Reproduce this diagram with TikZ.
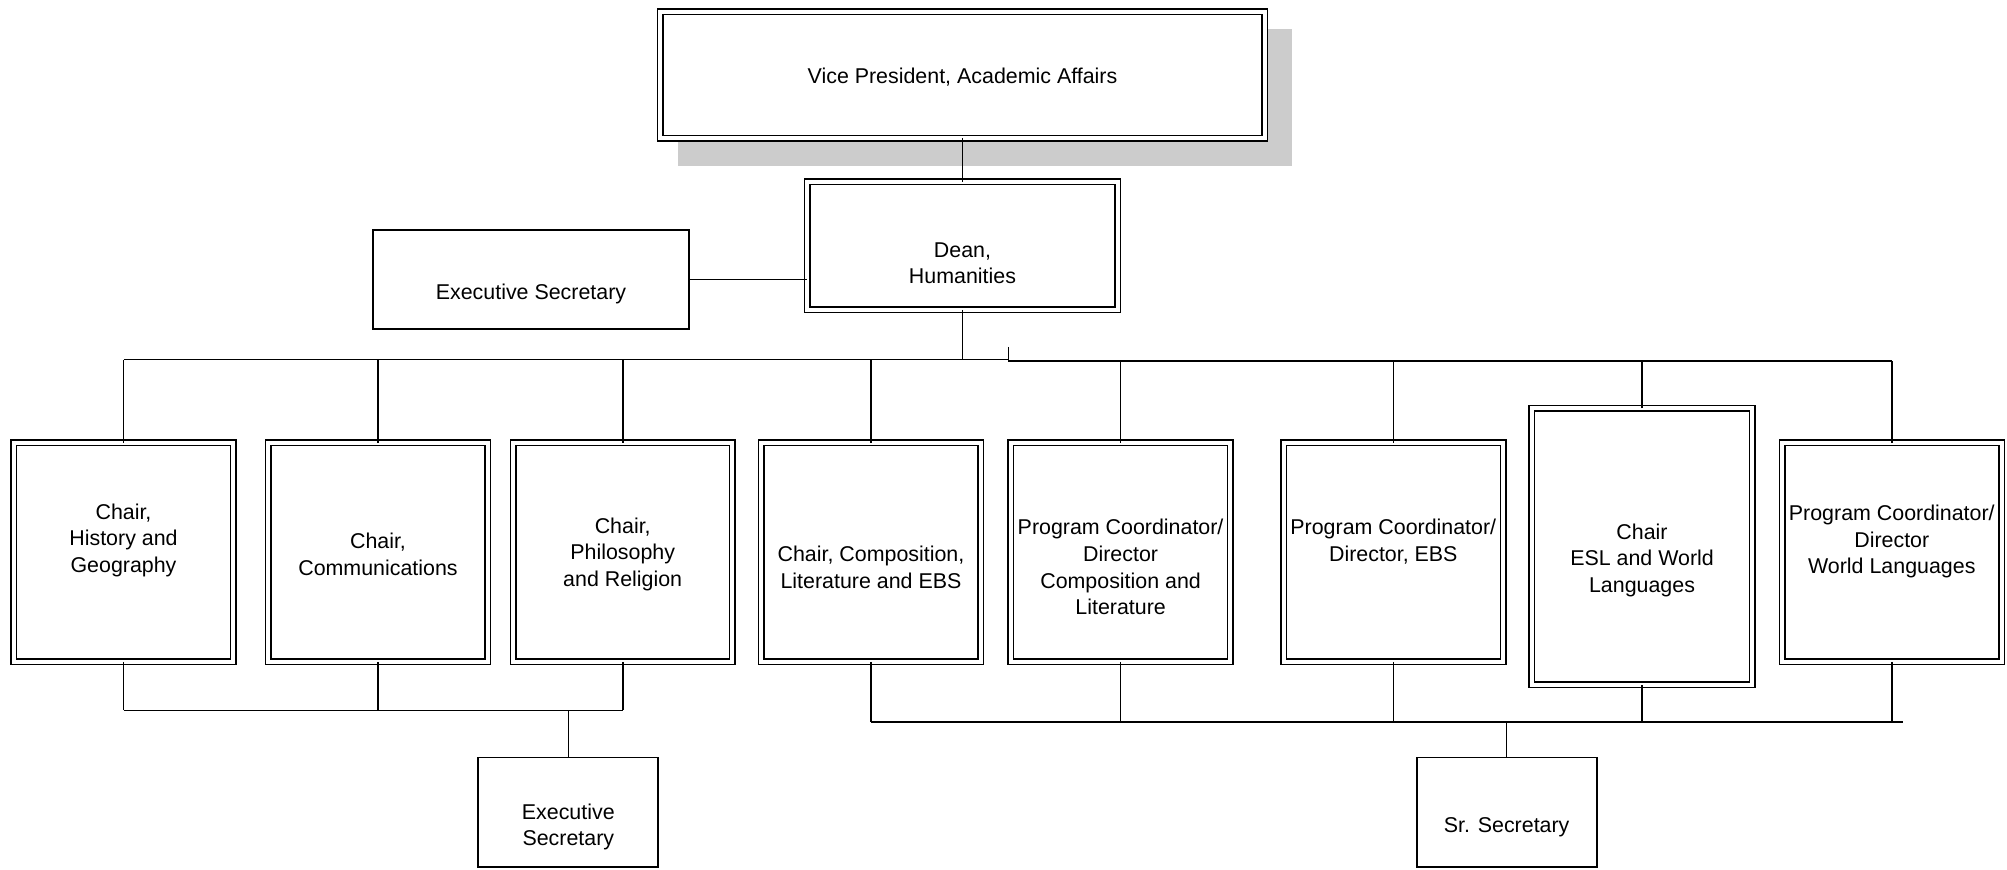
\documentclass[tikz,border=0pt]{standalone}
\usepackage{fontspec}
\setmainfont{Liberation Sans}
\begin{document}
\begin{tikzpicture}[x=0.5pt,y=-0.5pt,
  font=\fontsize{10.7}{13.3}\selectfont,
  dbox/.style={draw, line width=0.75pt, double, double distance=2pt, inner sep=0pt, outer sep=0pt, fill=white},
  sbox/.style={draw, line width=0.9pt, inner sep=0pt, outer sep=0pt, fill=white},
  child/.style={dbox, minimum width=109.7pt, minimum height=109.7pt},
  sec/.style={sbox, minimum width=90pt, minimum height=54.9pt},
  txt/.style={align=center, inner sep=0pt, yshift=-1pt},
  conn/.style={line width=0.8pt}
]
\useasboundingbox (0,0) rectangle (2007,870);
% shadow of top box
\fill[black!20] (678,29.4) rectangle (1291.5,166.4);
% boxes
\node[dbox, minimum width=302.4pt, minimum height=63.4pt,
  label={[txt]center:Vice President, Academic Affairs}] (vp) at (962.5,75) {};
\node[dbox, minimum width=155.1pt, minimum height=64.2pt,
  label={[txt,yshift=-7.7pt]center:Dean,\\Humanities}] (dean) at (962.5,245.8) {};
\node[sbox, minimum width=157.9pt, minimum height=49.6pt,
  label={[txt,yshift=-6.4pt]center:Executive Secretary}] (es1) at (531,279.6) {};
\node[child, label={[txt,yshift=7pt]center:Chair,\\History and\\Geography}] (c1) at (123.5,552.3) {};
\node[child, label={[txt]center:Chair,\\Communications}] (c2) at (378,552.3) {};
\node[child, label={[txt]center:Chair,\\Philosophy\\and Religion}] (c3) at (622.7,552.3) {};
\node[child, label={[txt,yshift=-6.4pt]center:Chair, Composition,\\Literature and EBS}] (c4) at (871,552.3) {};
\node[child, label={[txt,yshift=-6.4pt]center:Program Coordinator/\\Director\\Composition and\\Literature}] (c5) at (1120.6,552.3) {};
\node[child, label={[txt,yshift=6.4pt]center:Program Coordinator/\\Director, EBS}] (c6) at (1393.3,552.3) {};
\node[dbox, minimum width=110.4pt, minimum height=138.4pt,
  label={[txt,yshift=-5.8pt]center:Chair\\ESL and World\\Languages}] (c7) at (1642,546.6) {};
\node[child, label={[txt,yshift=6.4pt]center:Program Coordinator/\\Director\\World Languages}] (c8) at (1891.8,552.3) {};
\node[sec, label={[txt,yshift=-6.4pt]center:Executive\\Secretary}] (es2) at (568.3,812.3) {};
\node[sec, label={[txt,yshift=-6.4pt]center:Sr. Secretary}] (sr) at (1506.6,812.3) {};
% helper coordinates
\coordinate (bus) at (0,359.7);
\coordinate (busr) at (0,361.2);
\coordinate (tick) at (1008.6,347);
\coordinate (bl) at (0,710.4);
\coordinate (br) at (0,722);
\coordinate (brend) at (1903,722);
% connectors
\begin{scope}[conn]
\draw (vp.south) -- (dean.north);
\draw (es1.east) -- (es1.east -| dean.west);
\draw (dean.south) -- (dean.south |- bus);
\draw (c1.north |- bus) -- (tick |- bus);
\draw (tick) -- (tick |- busr) -- (c8.north |- busr);
\foreach \n in {c1,c2,c3,c4} \draw (\n.north) -- (\n.north |- bus);
\foreach \n in {c5,c6,c7,c8} \draw (\n.north) -- (\n.north |- busr);
\foreach \n in {c1,c2,c3} \draw (\n.south) -- (\n.south |- bl);
\draw (c1.south |- bl) -- (c3.south |- bl);
\draw (es2.north) -- (es2.north |- bl);
\foreach \n in {c4,c5,c6,c7,c8} \draw (\n.south) -- (\n.south |- br);
\draw (c4.south |- br) -- (brend);
\draw (sr.north) -- (sr.north |- br);
\end{scope}
\end{tikzpicture}
\end{document}
